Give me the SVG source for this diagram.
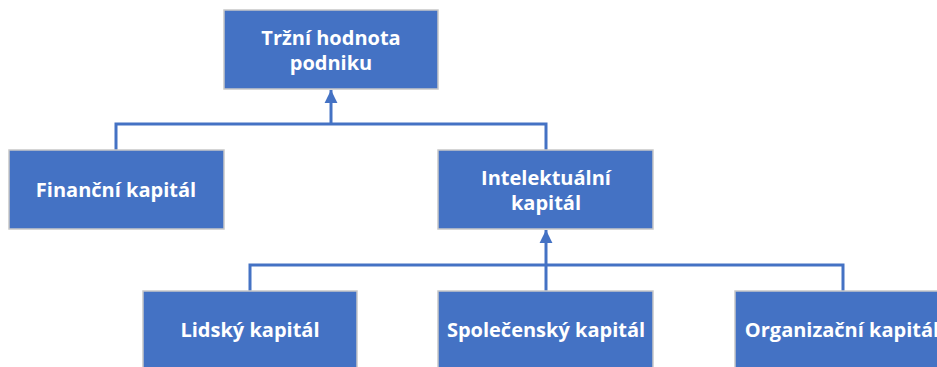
<svg xmlns="http://www.w3.org/2000/svg" width="937" height="367" viewBox="0 0 937 367">
<defs>
<style>
.box{fill:#4472C4;stroke:#C8C8C8;stroke-width:1.5}
.lbl{font-family:"Open Sans","Noto Sans","DejaVu Sans",sans-serif;font-weight:bold;font-size:20px;fill:#FFFFFF;text-anchor:middle}
.con{fill:none;stroke:#4472C4;stroke-width:3}
</style>
<marker id="arr" viewBox="0 0 10 10" refX="10" refY="5" markerWidth="4.3" markerHeight="4.6" orient="auto" markerUnits="strokeWidth">
<path d="M0,0 L10,5 L0,10 Z" fill="#4472C4"/>
</marker>
</defs>
<rect width="937" height="367" fill="#FFFFFF"/>
<g id="connectors">
<path class="con" d="M116,150 V124 H546 V150"/>
<path class="con" d="M331,124 V90" marker-end="url(#arr)"/>
<path class="con" d="M250,291 V265 H843 V291"/>
<path class="con" d="M546,291 V230" marker-end="url(#arr)"/>
</g>
<g id="n-trzni">
<rect class="box" x="224" y="10" width="214" height="79"/>
<text class="lbl" x="331" y="45">Tržní hodnota</text>
<text class="lbl" x="331" y="70">podniku</text>
</g>
<g id="n-financni">
<rect class="box" x="9" y="150" width="215" height="79"/>
<text class="lbl" x="116" y="197">Finanční kapitál</text>
</g>
<g id="n-intelektualni">
<rect class="box" x="438" y="150" width="215" height="79"/>
<text class="lbl" x="546" y="185">Intelektuální</text>
<text class="lbl" x="546" y="210">kapitál</text>
</g>
<g id="n-lidsky">
<rect class="box" x="143" y="291" width="214" height="79"/>
<text class="lbl" x="250" y="337">Lidský kapitál</text>
</g>
<g id="n-spolecensky">
<rect class="box" x="438" y="291" width="215" height="79"/>
<text class="lbl" x="546" y="337">Společenský kapitál</text>
</g>
<g id="n-organizacni">
<rect class="box" x="735" y="291" width="215" height="79"/>
<text class="lbl" x="842" y="337">Organizační kapitál</text>
</g>
</svg>
